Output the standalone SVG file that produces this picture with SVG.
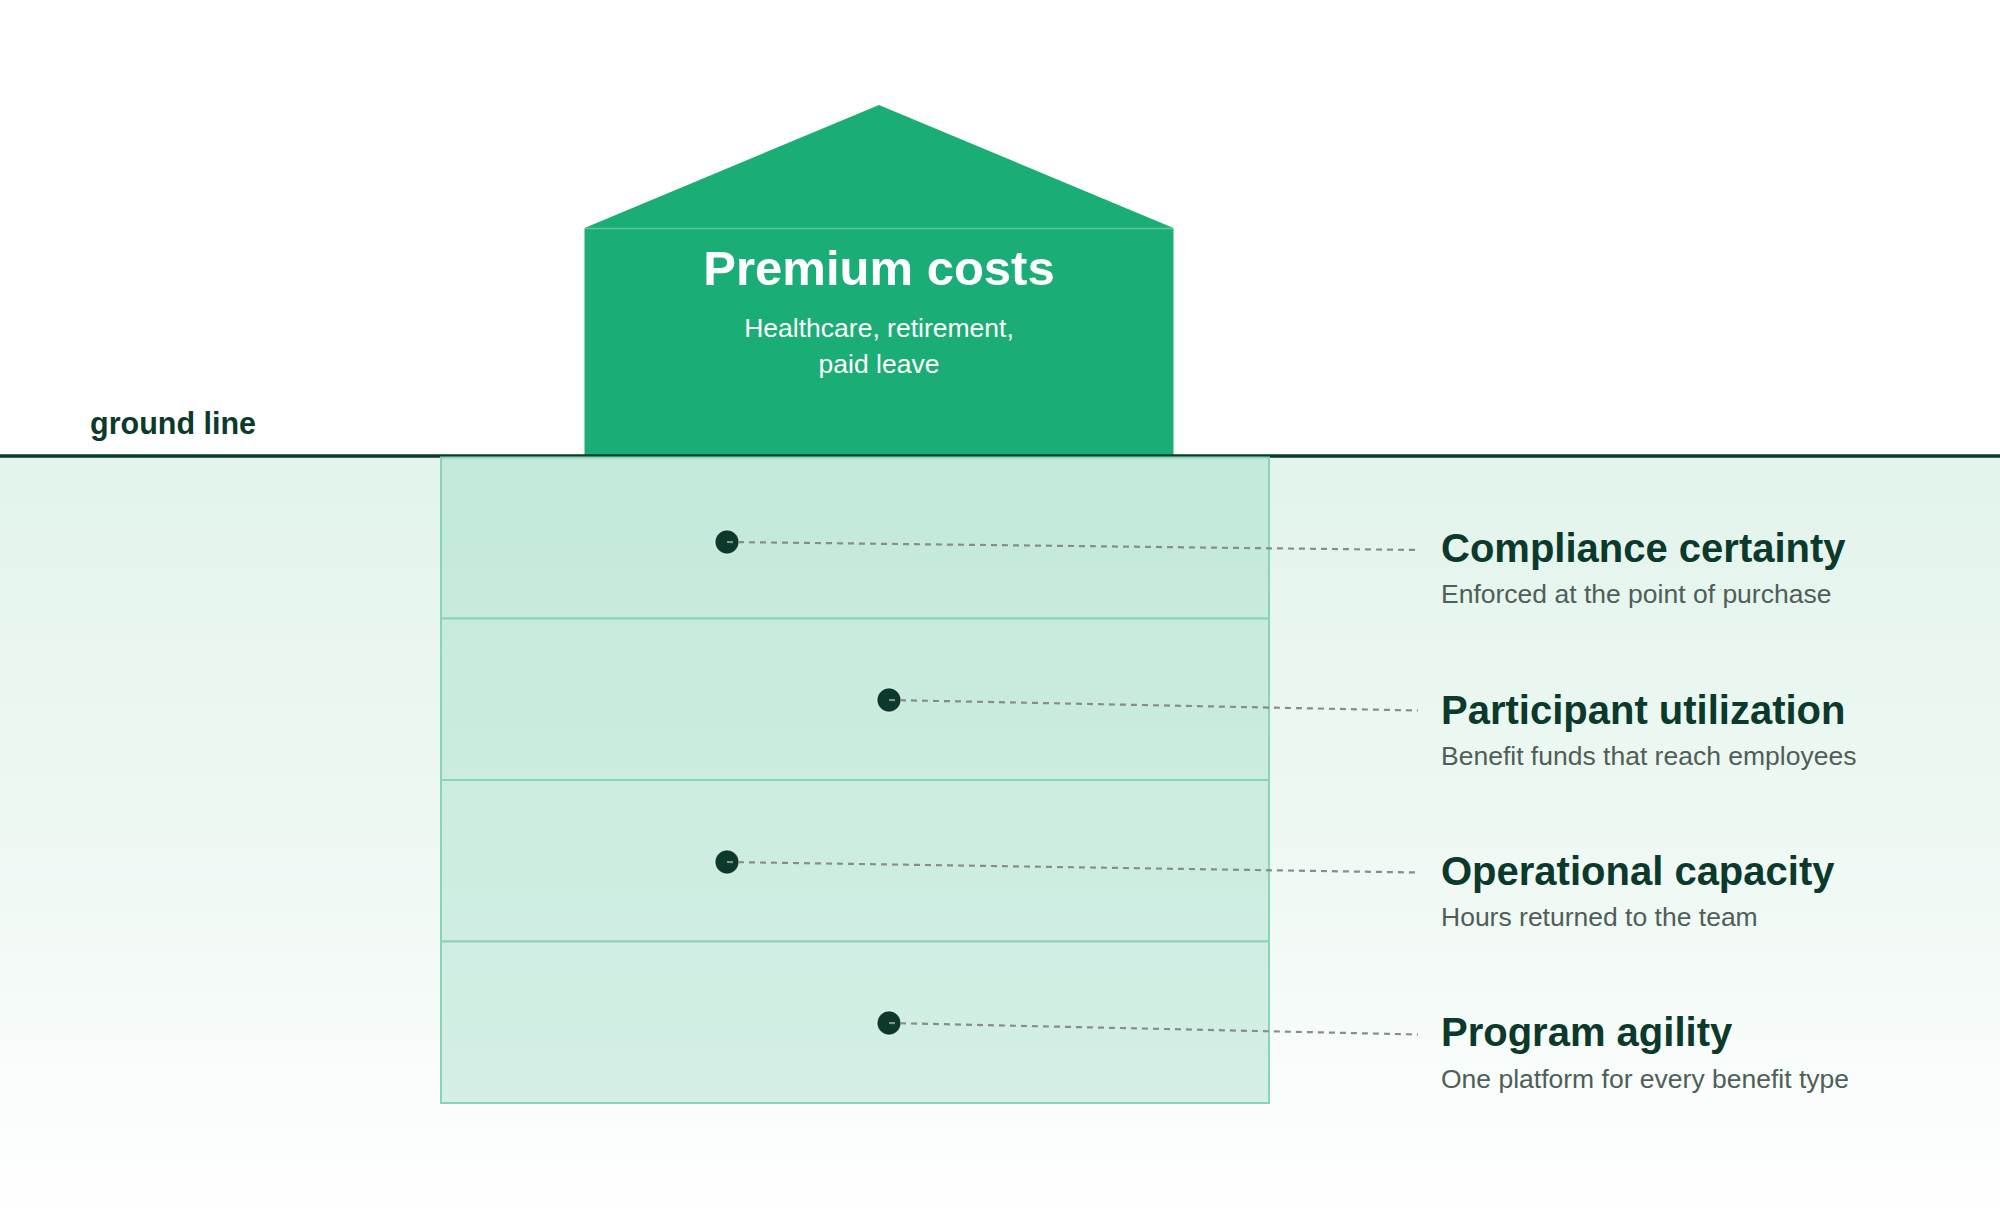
<svg xmlns="http://www.w3.org/2000/svg" width="2000" height="1218" viewBox="0 0 2000 1218">
  <defs>
    <linearGradient id="soil" x1="0" y1="456" x2="0" y2="1218" gradientUnits="userSpaceOnUse">
      <stop offset="0" stop-color="#e2f4eb"/>
      <stop offset="0.6" stop-color="#f1f9f5"/>
      <stop offset="1" stop-color="#ffffff"/>
    </linearGradient>
    <linearGradient id="block" x1="0" y1="457" x2="0" y2="1103" gradientUnits="userSpaceOnUse">
      <stop offset="0" stop-color="#c2e9da"/>
      <stop offset="1" stop-color="#d4efe5"/>
    </linearGradient>
    <style>
      .row { fill: url(#block); stroke: #8ad4b6; stroke-width: 2; }
      .dot { fill: #0b3a2c; stroke: #ffffff; stroke-width: 1.2; stroke-opacity: 0.6; }
      .conn { fill: none; stroke: #878d8a; stroke-width: 2.2; stroke-dasharray: 6 5; }
      .title { font-family: "Liberation Sans", Arial, sans-serif; font-weight: bold; font-size: 40px; fill: #0b3a2c; }
      .sub { font-family: "Liberation Sans", Arial, sans-serif; font-size: 26.5px; fill: #4f5e58; }
    </style>
  </defs>
  <rect x="0" y="0" width="2000" height="1218" fill="#ffffff"/>
  <rect x="0" y="456" width="2000" height="762" fill="url(#soil)"/>

  <g id="house">
    <polygon points="584.5,228 879,105 1173.5,228" fill="#1bad76"/>
    <rect x="584.5" y="228" width="589" height="228" fill="#1bad76"/>
    <line x1="584.5" y1="228.5" x2="1173.5" y2="228.5" stroke="#ffffff" stroke-opacity="0.3" stroke-width="1.5"/>
    <text x="879" y="285" text-anchor="middle" font-family="'Liberation Sans', Arial, sans-serif" font-weight="bold" font-size="49" fill="#ffffff">Premium costs</text>
    <text x="879" y="337" text-anchor="middle" font-family="'Liberation Sans', Arial, sans-serif" font-size="26.5" fill="#ffffff">Healthcare, retirement,</text>
    <text x="879" y="373" text-anchor="middle" font-family="'Liberation Sans', Arial, sans-serif" font-size="26.5" fill="#ffffff">paid leave</text>
  </g>

  <g id="ground">
    <line x1="0" y1="456" x2="2000" y2="456" stroke="#0b3a2c" stroke-width="3.5"/>
    <text x="90" y="434" font-family="'Liberation Sans', Arial, sans-serif" font-weight="bold" font-size="30.5" fill="#0b3a2c">ground line</text>
  </g>

  <g id="row1"><rect class="row" x="441" y="457.5" width="828" height="161"/></g>
  <g id="row2"><rect class="row" x="441" y="618.5" width="828" height="161.5"/></g>
  <g id="row3"><rect class="row" x="441" y="780" width="828" height="161.5"/></g>
  <g id="row4"><rect class="row" x="441" y="941.5" width="828" height="161.5"/></g>

  <g id="dots">
    <circle class="dot" cx="727" cy="542" r="12"/>
    <circle class="dot" cx="889" cy="700" r="12"/>
    <circle class="dot" cx="727" cy="862" r="12"/>
    <circle class="dot" cx="889" cy="1023" r="12"/>
  </g>

  <g id="connectors">
    <line class="conn" x1="727" y1="542" x2="1418" y2="550"/>
    <line class="conn" x1="889" y1="700" x2="1418" y2="710.5"/>
    <line class="conn" x1="727" y1="862" x2="1418" y2="872.5"/>
    <line class="conn" x1="889" y1="1023" x2="1418" y2="1034.5"/>
  </g>

  <g id="label1">
    <text class="title" x="1441" y="562">Compliance certainty</text>
    <text class="sub" x="1441" y="603">Enforced at the point of purchase</text>
  </g>
  <g id="label2">
    <text class="title" x="1441" y="723.5">Participant utilization</text>
    <text class="sub" x="1441" y="764.5">Benefit funds that reach employees</text>
  </g>
  <g id="label3">
    <text class="title" x="1441" y="885">Operational capacity</text>
    <text class="sub" x="1441" y="926">Hours returned to the team</text>
  </g>
  <g id="label4">
    <text class="title" x="1441" y="1046">Program agility</text>
    <text class="sub" x="1441" y="1088">One platform for every benefit type</text>
  </g>
</svg>
